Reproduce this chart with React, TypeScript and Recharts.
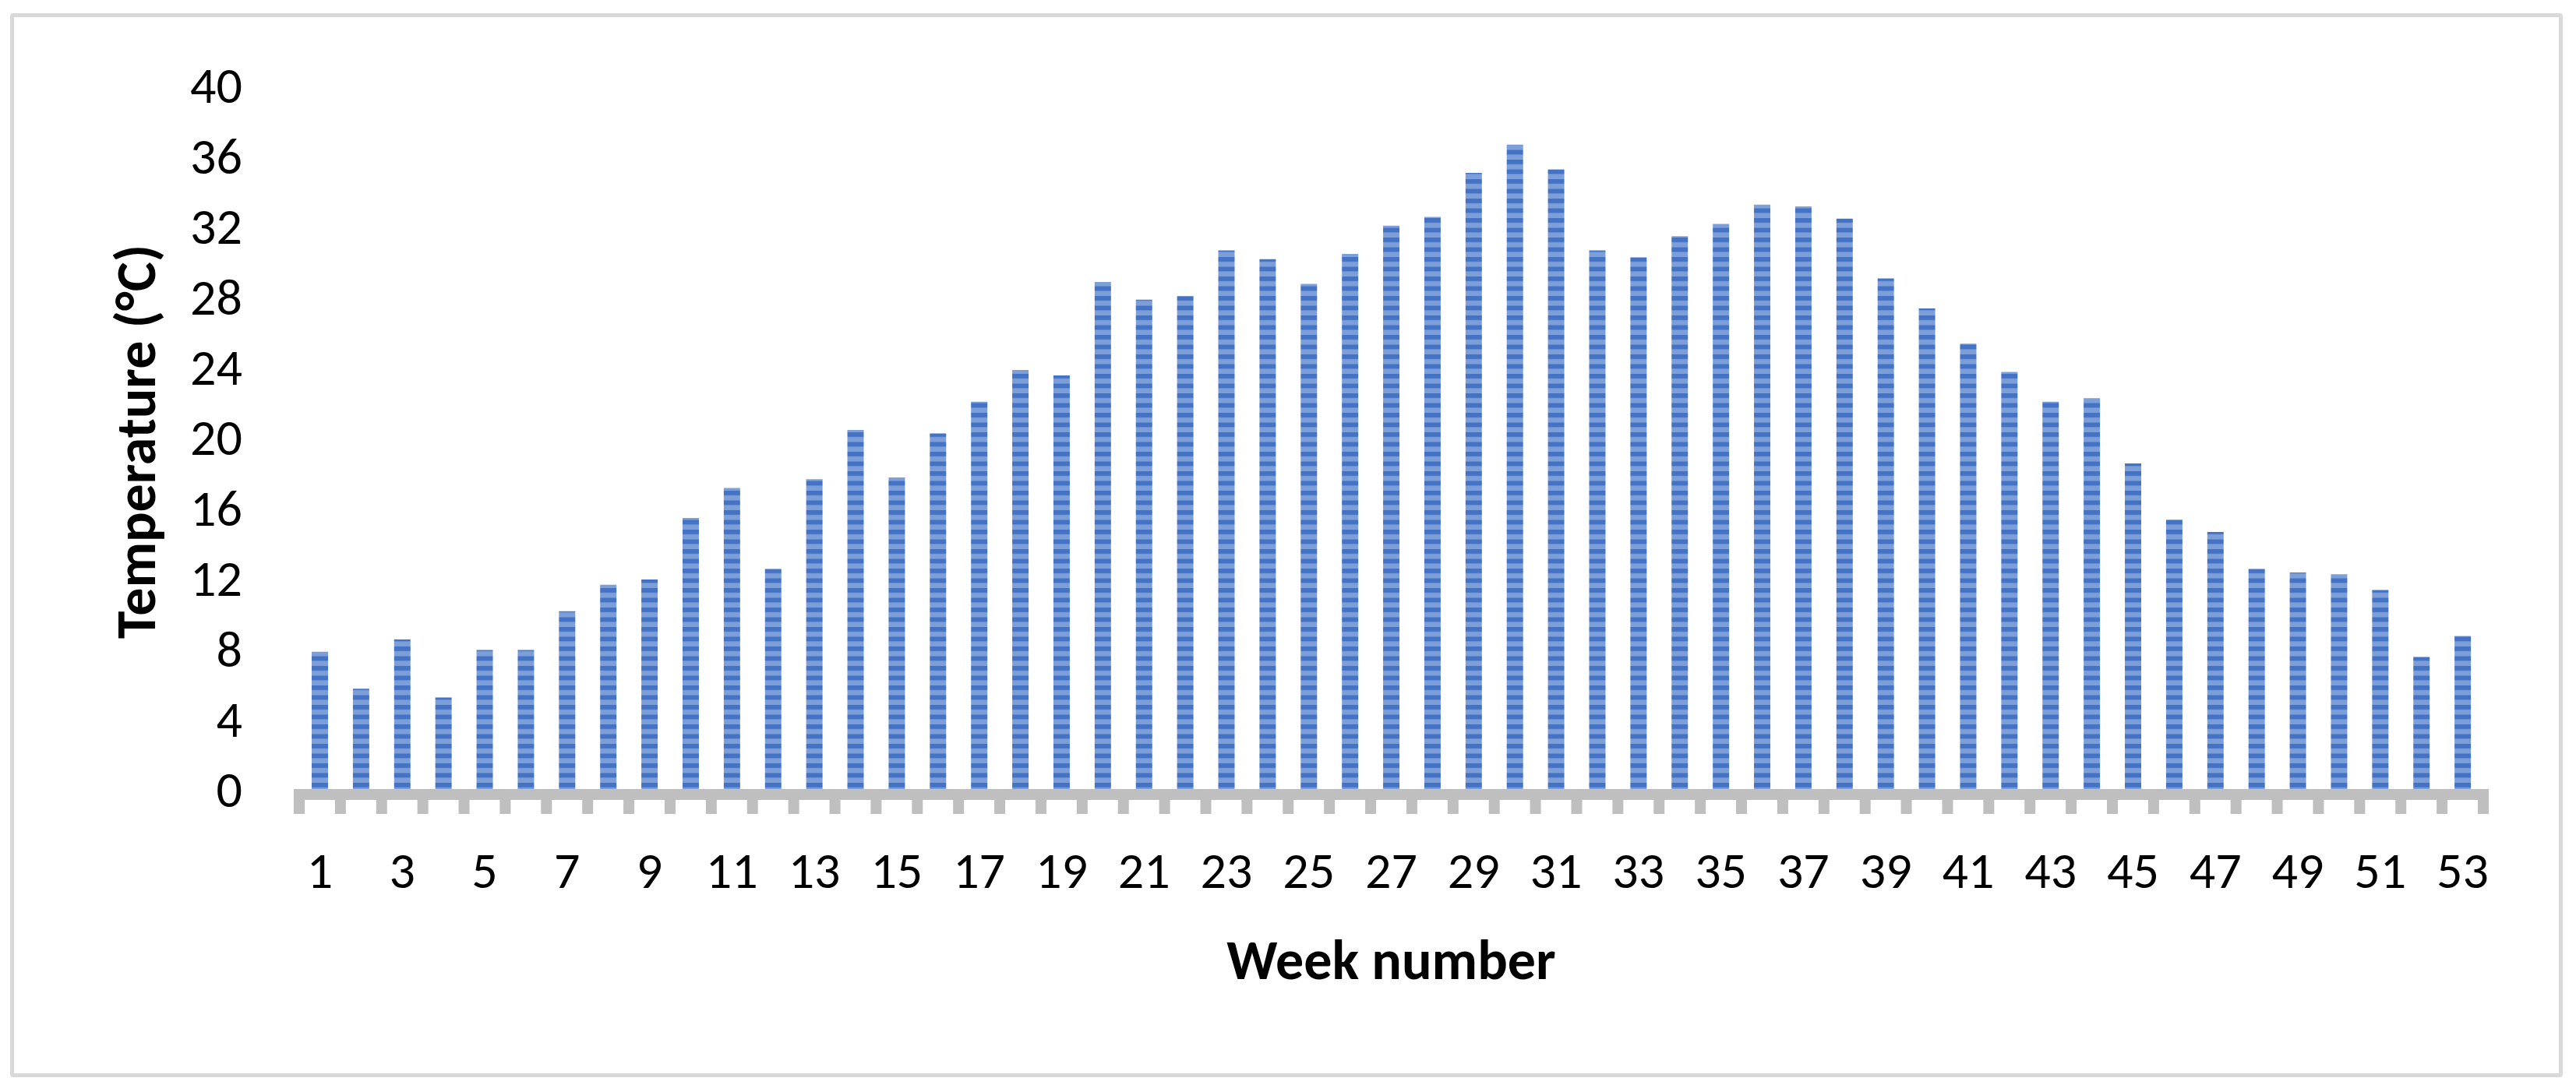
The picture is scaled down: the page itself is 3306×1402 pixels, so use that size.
import React from 'react';
import { BarChart, Bar, XAxis, YAxis, Label } from 'recharts';

// weekly temperature
const weeks = [
  1, 2, 3, 4, 5, 6, 7, 8, 9, 10, 11, 12, 13, 14, 15, 16, 17, 18, 19, 20, 21, 22, 23, 24, 25, 26, 27,
  28, 29, 30, 31, 32, 33, 34, 35, 36, 37, 38, 39, 40, 41, 42, 43, 44, 45, 46, 47, 48, 49, 50, 51, 52, 53,
];
const temperature = [
  7.8, 5.7, 8.5, 5.2, 7.9, 7.9, 10.1, 11.6, 11.9, 15.4, 17.1, 12.5, 17.6, 20.4, 17.7, 20.2, 22.0, 23.8,
  23.5, 28.8, 27.8, 28.0, 30.6, 30.1, 28.7, 30.4, 32.0, 32.5, 35.0, 36.6, 35.2, 30.6, 30.2, 31.4, 32.1,
  33.2, 33.1, 32.4, 29.0, 27.3, 25.3, 23.7, 22.0, 22.2, 18.5, 15.3, 14.6, 12.5, 12.3, 12.2, 11.3, 7.5, 8.7,
];
const yTicks = [0, 4, 8, 12, 16, 20, 24, 28, 32, 36, 40];

const rows = weeks.map((w, i) => ({ week: w, temp: temperature[i] }));

const FONT = 'Carlito, Calibri, Lato, sans-serif';
const W = 3306;
const H = 1402;
const PLOT_W = 2803;
const BAND = PLOT_W / weeks.length;
const AXIS_GRAY = '#bfbfbf';
const TICK_FONT = 66;
const TITLE_FONT = 72;

if (typeof document !== 'undefined') {
  document.body.style.margin = '0';
  document.body.style.overflow = 'hidden';
}

// Excel-style category axis: thick gray floor, ticks between categories, every other label
const WeekTick = (props: any) => {
  const { x, y, payload, index } = props;
  const left = x - BAND / 2;
  return (
    <g>
      <rect x={left} y={y} width={BAND} height={14} fill={AXIS_GRAY} />
      <rect x={left - 7} y={y} width={14} height={32} fill={AXIS_GRAY} />
      {index === weeks.length - 1 && (
        <rect x={left + BAND - 7} y={y} width={14} height={32} fill={AXIS_GRAY} />
      )}
      {index % 2 === 0 && (
        <text x={x} y={y + 127} textAnchor="middle" fontSize={TICK_FONT} fontFamily={FONT} fill="#000">
          {payload.value}
        </text>
      )}
    </g>
  );
};

export default function App() {
  return (
    <div style={{ position: 'relative', width: W, height: H, background: '#fff' }}>
      <div
        style={{
          position: 'absolute',
          left: 13,
          top: 17,
          width: 3276,
          height: 1366,
          border: '5px solid #d9d9d9',
          borderRadius: 4,
          boxSizing: 'border-box',
          pointerEvents: 'none',
        }}
      />
      <BarChart
        width={W}
        height={H}
        data={rows}
        margin={{ top: 109, right: 119, bottom: 129, left: 0 }}
        style={{ position: 'absolute', left: 0, top: 0 }}
      >
        <defs>
          <pattern id="stripes" patternUnits="userSpaceOnUse" x={0} y={5} width={20} height={12.5}>
            <rect x={0} y={0} width={20} height={6.5} fill="#4472c4" />
            <rect x={0} y={6.5} width={20} height={6} fill="#7d9fd9" />
          </pattern>
        </defs>
        <XAxis
          dataKey="week"
          height={260}
          interval={0}
          tickLine={false}
          axisLine={false}
          tickSize={0}
          tickMargin={0}
          tick={<WeekTick />}
        >
          <Label
            content={(p: any) => {
              const vb = p.viewBox;
              return (
                <text
                  x={vb.x + vb.width / 2}
                  y={vb.y + 244}
                  textAnchor="middle"
                  fontSize={TITLE_FONT}
                  fontWeight="bold"
                  fontFamily={FONT}
                  fill="#000"
                >
                  Week number
                </text>
              );
            }}
          />
        </XAxis>
        <YAxis
          width={384}
          domain={[0, 40]}
          ticks={yTicks}
          interval={0}
          axisLine={false}
          tickLine={false}
          tickSize={0}
          tickMargin={73}
          tick={{ fill: '#000', fontSize: TICK_FONT, fontFamily: FONT }}
        >
          <Label
            content={(p: any) => {
              const vb = p.viewBox;
              const cx = vb.x + 174;
              const cy = vb.y + vb.height / 2 + 6;
              return (
                <text
                  x={cx}
                  y={cy}
                  transform={`rotate(-90, ${cx}, ${cy})`}
                  textAnchor="middle"
                  dominantBaseline="central"
                  fontSize={TITLE_FONT}
                  fontWeight="bold"
                  fontFamily={FONT}
                  fill="#000"
                >
                  Temperature (°C)
                </text>
              );
            }}
          />
        </YAxis>
        <Bar dataKey="temp" barSize={21} fill="url(#stripes)" isAnimationActive={false} />
      </BarChart>
    </div>
  );
}
